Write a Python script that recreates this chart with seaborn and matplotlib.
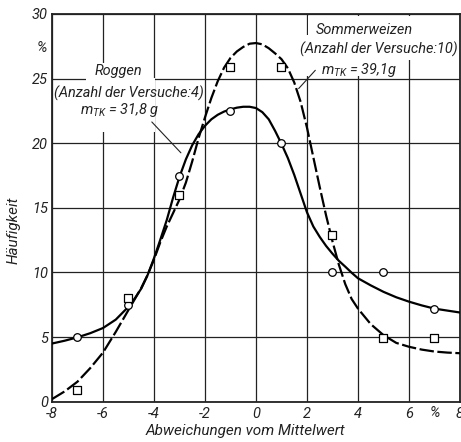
import statistics
import matplotlib
matplotlib.use("Agg")
import matplotlib.pyplot as plt
import seaborn as sns
from matplotlib.patches import Rectangle

# ---------------- data ----------------
abw_punkte = [-7, -5, -3, -1, 1, 3, 5, 7]
roggen_punkte = [5.0, 7.5, 17.5, 22.5, 20.0, 10.0, 10.0, 7.2]
weizen_punkte = [0.9, 8.0, 16.0, 25.9, 25.9, 12.9, 4.9, 4.9]

abw_kurve = [-8, -7.5, -7, -6.5, -6, -5.5, -5, -4.75, -4.5, -4.25, -4,
             -3.75, -3.5, -3.25, -3, -2.75, -2.5, -2.25, -2, -1.75, -1.5,
             -1.25, -1, -0.75, -0.5, -0.25, 0, 0.25, 0.5, 0.75, 1, 1.25,
             1.5, 1.75, 2, 2.25, 2.5, 2.75, 3, 3.25, 3.5, 3.75, 4, 4.5, 5,
             5.5, 6, 6.5, 7, 7.5, 8]
roggen_kurve = [4.5, 4.72, 4.98, 5.3, 5.7, 6.35, 7.35, 8.0, 8.75, 9.8, 11.1,
                12.55, 14.05, 15.8, 17.4, 18.75, 19.85, 20.7, 21.35, 21.85,
                22.2, 22.45, 22.62, 22.75, 22.82, 22.82, 22.72, 22.4, 21.85,
                20.95, 19.95, 18.85, 17.55, 16.1, 14.65, 13.55, 12.75, 12.05,
                11.45, 10.9, 10.45, 9.98, 9.55, 9.0, 8.5, 8.08, 7.74, 7.45,
                7.2, 7.05, 6.9]
weizen_kurve = [0.2, 0.8, 1.55, 2.6, 3.8, 5.4, 7.1, 7.95, 8.8, 9.8, 11.0,
                12.35, 13.55, 14.6, 15.65, 16.95, 18.6, 20.4, 22.0, 23.5,
                24.8, 25.85, 26.6, 27.1, 27.45, 27.7, 27.75, 27.65, 27.35,
                26.95, 26.5, 25.8, 24.7, 23.2, 21.2, 18.9, 16.6, 14.4, 12.4,
                10.6, 9.1, 7.95, 7.2, 6.0, 5.15, 4.55, 4.25, 4.03, 3.88, 3.8,
                3.75]

x_ticks = [-8, -6, -4, -2, 0, 2, 4, 6, 8]
x_ticklabels = ["-8", "-6", "-4", "-2", "0", "2", "4", "6", "8"]
y_ticks = [0, 5, 10, 15, 20, 25, 30]
y_ticklabels = ["0", "5", "10", "15", "20", "25", "30"]

# ---------------- style ----------------
sns.set_style("white")
FONT = "Roboto"
plt.rcParams["font.family"] = [FONT, "DejaVu Sans"]
plt.rcParams["font.style"] = "italic"
plt.rcParams["mathtext.fontset"] = "custom"
for k in ("it", "rm", "sf"):
    plt.rcParams["mathtext." + k] = FONT + ":italic"

FS = 10.5
INK = "#222222"

fig = plt.figure(figsize=(4.61, 4.42), dpi=100)
fig.patch.set_facecolor("white")
ax = fig.add_axes([0.1128, 0.0912, 0.8850, 0.8772])
ax.set_facecolor("white")

# curves
sns.lineplot(x=abw_kurve, y=roggen_kurve, ax=ax, color="black", lw=1.6,
             zorder=3)
sns.lineplot(x=abw_kurve, y=weizen_kurve, ax=ax, color="black", lw=1.6,
             linestyle=(0, (6.5, 1.6)), zorder=3)

# measured points
sns.scatterplot(x=abw_punkte, y=roggen_punkte, ax=ax, marker="o", s=30,
                facecolor="white", edgecolor="black", linewidth=0.9, zorder=4)
sns.scatterplot(x=abw_punkte, y=weizen_punkte, ax=ax, marker="s", s=30,
                facecolor="white", edgecolor="black", linewidth=0.9, zorder=4)

ax.set_xlim(-8, 8)
ax.set_ylim(0, 30)
ax.set_xticks(x_ticks)
ax.set_xticklabels(x_ticklabels)
ax.set_yticks(y_ticks)
ax.set_yticklabels(y_ticklabels)
ax.tick_params(length=0, labelsize=FS, colors=INK)
ax.tick_params(axis="y", pad=3)
ax.tick_params(axis="x", pad=3.5)

ax.set_axisbelow(True)
ax.grid(True, color=INK, lw=0.9)
for sp in ax.spines.values():
    sp.set_visible(True)
    sp.set_color(INK)
    sp.set_linewidth(1.3)

# white areas behind the labels (grid interrupted)
for (x0, y0, w, h) in [(-6.65, 20.9, 2.7, 4.15), (-6.65, 25.05, 2.55, 1.15),
                       (1.6, 25.2, 4.35, 3.2), (2.05, 25.2, 3.9, 4.65),
                       (5.95, 26.4, 2.0, 3.45)]:
    ax.add_patch(Rectangle((x0, y0), w, h, facecolor="white",
                           edgecolor="none", zorder=1.5))

# percent marks
ax.text(-0.012, 27.35, "%", transform=ax.get_yaxis_transform(), ha="right",
        va="center", fontsize=FS, color=INK)
ax.text(7.0, -0.012, "%", transform=ax.get_xaxis_transform(), ha="center",
        va="top", fontsize=FS, color=INK)

# axis labels
ax.set_ylabel("Häufigkeit", fontsize=FS + 0.5, color=INK)
ax.yaxis.set_label_coords(-0.076, 0.443)
ax.set_xlabel("Abweichungen vom Mittelwert", fontsize=FS + 0.5, color=INK)
ax.xaxis.set_label_coords(0.473, -0.057)

# annotations
tk = dict(fontsize=FS, color=INK, ha="center", va="center", zorder=5)
notes = [
    (ax.text(-5.4, 25.55, "Roggen", **tk), 47),
    (ax.text(-5.0, 23.85, "(Anzahl der Versuche:4)", **tk), 147),
    (ax.text(-5.35, 22.55, r"$m_{TK}$ = 31,8 g", **tk), 75),
    (ax.text(4.24, 28.75, "Sommerweizen", **tk), 102),
    (ax.text(4.82, 27.3, "(Anzahl der Versuche:10)", **tk), 162),
    (ax.text(4.04, 25.65, r"$m_{TK}$ = 39,1g", **tk), 78),
]
ax.annotate("", xy=(-2.87, 19.1), xytext=(-4.16, 21.8),
            arrowprops=dict(arrowstyle="-", lw=0.8, color=INK), zorder=5)
ax.annotate("", xy=(1.6, 24.07), xytext=(2.4, 25.8),
            arrowprops=dict(arrowstyle="-", lw=0.8, color=INK), zorder=5)

# fit annotation size to the widths seen in the reference
fig.canvas.draw()
rend = fig.canvas.get_renderer()
ratios = [tgt / t.get_window_extent(rend).width for t, tgt in notes]
k = statistics.median(ratios)
for t, _ in notes:
    t.set_fontsize(FS * k)

fig.savefig("out.png", dpi=100, facecolor="white")
